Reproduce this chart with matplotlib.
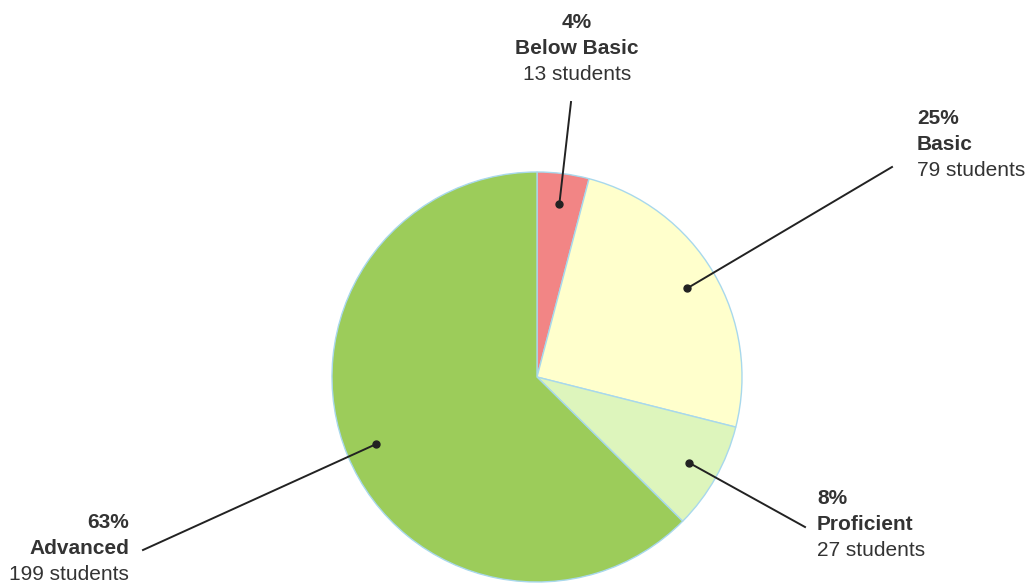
import numpy as np
import matplotlib
matplotlib.use('Agg')
from matplotlib import pyplot as plt

# data
levels = ['Below Basic', 'Basic', 'Proficient', 'Advanced']
students = [13, 79, 27, 199]
colors = ['#F28585', '#FFFFCC', '#DDF5BC', '#9CCC5A']

# label anchor (pixel coords, y down), alignment, and where the leader line stops
labelPos = [(577, 23, 'center'), (917, 118, 'left'), (817, 499, 'left'), (129, 522, 'right')]
lineEnd = [(571, 102), (892, 167), (805, 527), (143, 550)]

plt.rcParams['font.family'] = ['Liberation Sans', 'DejaVu Sans']

fig = plt.figure(figsize=(10.27, 5.84), dpi=100)
ax = fig.add_axes([0, 0, 1, 1])

center = (537, 377)
radius = 205
# y axis runs downwards, so the angles are mirrored: start at -90, go "counterclockwise"
wedges, _ = ax.pie(students, colors=colors, startangle=-90, counterclock=True,
                   center=center, radius=radius,
                   wedgeprops=dict(edgecolor='#A8D8EC', linewidth=1.0))
ax.set_xlim(0, 1027)
ax.set_ylim(584, 0)
ax.set_aspect('auto')
ax.axis('off')

total = sum(students)
textColor = '#333333'
for w, name, n, (lx, ly, ha), (ex, ey) in zip(wedges, levels, students, labelPos, lineEnd):
    mid = np.deg2rad((w.theta1 + w.theta2) / 2)
    dx = w.center[0] + 0.85 * w.r * np.cos(mid)
    dy = w.center[1] + 0.85 * w.r * np.sin(mid)
    ax.plot([dx, ex], [dy, ey], color='#222222', lw=1.4, zorder=5)
    ax.plot(dx, dy, 'o', color='#222222', ms=5, zorder=6)

    pct = round(100 * n / total)
    ax.text(lx, ly, '%d%%' % pct, ha=ha, va='center', fontsize=15, fontweight='bold', color=textColor)
    ax.text(lx, ly + 26, name, ha=ha, va='center', fontsize=15, fontweight='bold', color=textColor)
    ax.text(lx, ly + 52, '%d students' % n, ha=ha, va='center', fontsize=15, color=textColor)

fig.savefig('out.png', dpi=100)
